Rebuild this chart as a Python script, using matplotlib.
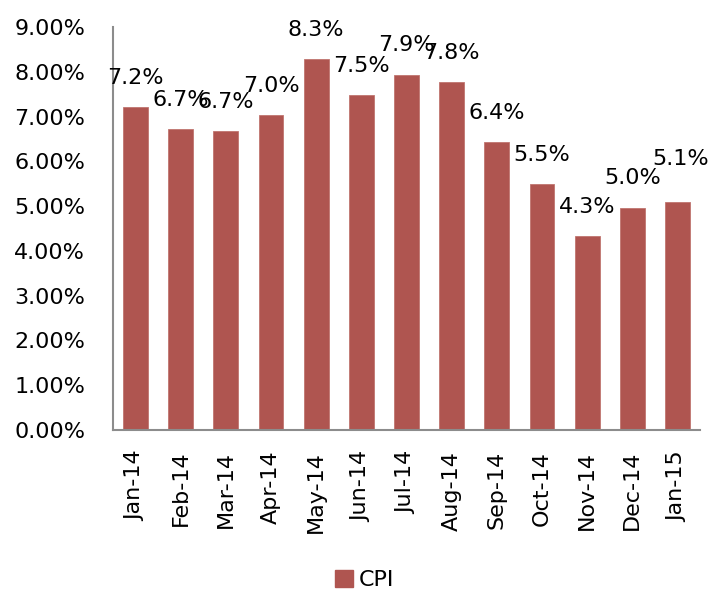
import matplotlib
matplotlib.use("Agg")
import matplotlib.pyplot as plt
from matplotlib.ticker import FuncFormatter, MultipleLocator
from matplotlib.patches import Patch

months = ["Jan-14", "Feb-14", "Mar-14", "Apr-14", "May-14", "Jun-14", "Jul-14",
          "Aug-14", "Sep-14", "Oct-14", "Nov-14", "Dec-14", "Jan-15"]
cpi = [7.22, 6.72, 6.68, 7.04, 8.28, 7.48, 7.94, 7.78, 6.44, 5.50, 4.34, 4.97, 5.09]
series_name = "CPI"

bar_color = "#AF5550"
axis_color = "#8C8C8C"

fig = plt.figure(figsize=(7.15, 5.96), dpi=100)
ax = fig.add_axes([0.158, 0.2785, 0.821, 0.676])

x = list(range(len(months)))
ax.bar(x, cpi, width=0.55, color=bar_color, edgecolor="#C07570", linewidth=0.6)

ax.set_ylim(0, 9)
ax.set_xlim(-0.5, len(months) - 0.5)
ax.yaxis.set_major_locator(MultipleLocator(1))
ax.yaxis.set_major_formatter(FuncFormatter(lambda v, p: f"{v:.2f}%"))
ax.set_xticks(x)
ax.set_xticklabels(months, rotation=90)
ax.tick_params(axis="both", length=0, labelsize=16, colors="black")
ax.tick_params(axis="x", pad=15)
ax.tick_params(axis="y", pad=20)

for s in ["top", "right"]:
    ax.spines[s].set_visible(False)
for s in ["left", "bottom"]:
    ax.spines[s].set_color(axis_color)
    ax.spines[s].set_linewidth(1.5)

# label offsets (points)
offsets = {12: (2, 31)}
for i, v in enumerate(cpi):
    dx, dy = offsets.get(i, (0, 21))
    ax.annotate(f"{v:.1f}%", (i, v), xytext=(dx, dy), textcoords="offset points",
                ha="center", va="center", fontsize=16, color="black")

handle = Patch(facecolor=bar_color, edgecolor=bar_color)
fig.legend([handle], [series_name], loc="center", bbox_to_anchor=(0.51, 0.027),
           frameon=False, fontsize=16, handlelength=0.8, handleheight=0.8,
           handletextpad=0.3)

fig.savefig("out.png", dpi=100)
